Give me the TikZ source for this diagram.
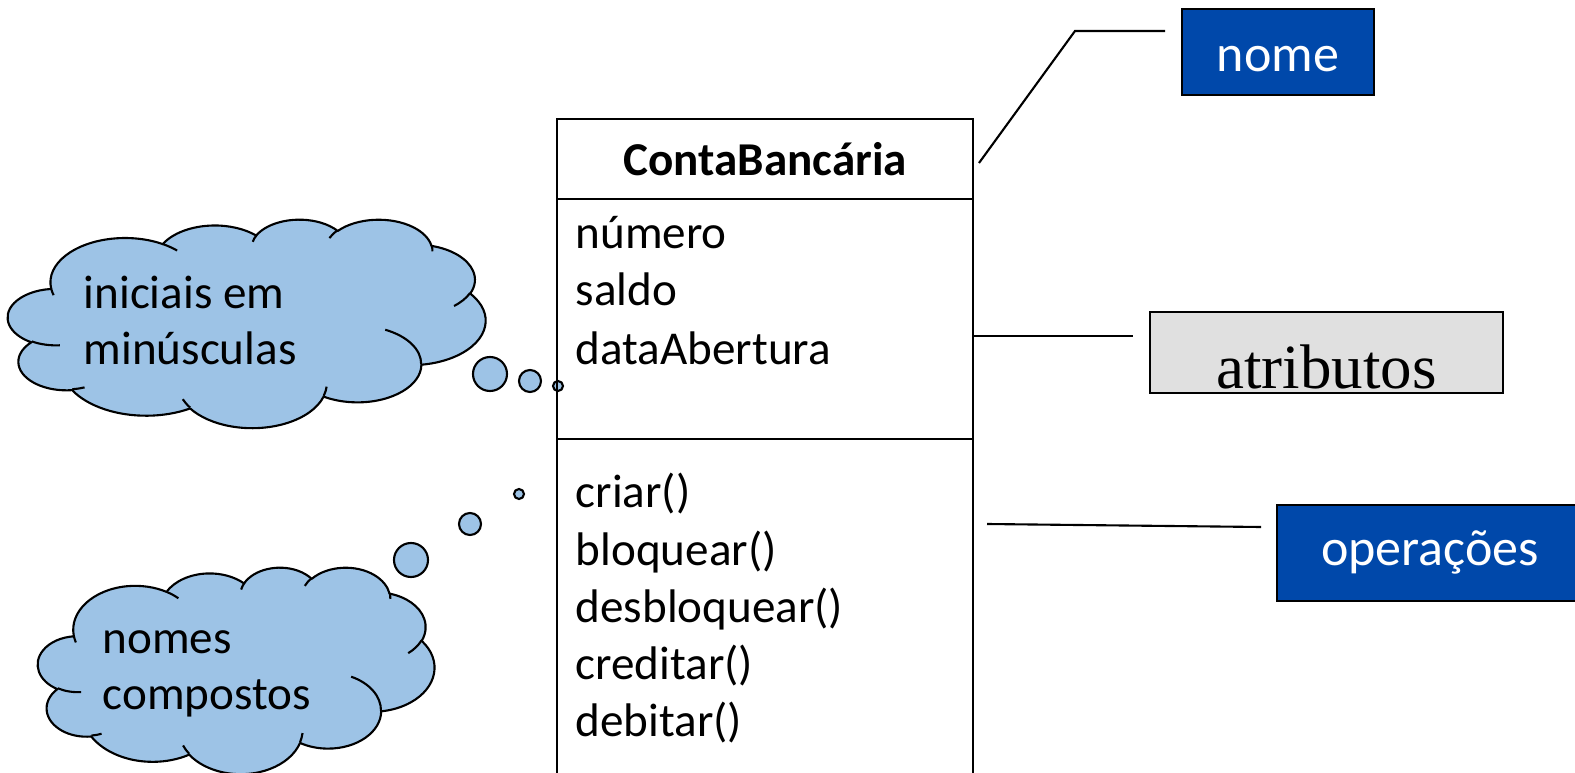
\documentclass[tikz,border=0pt]{standalone}
\usepackage{fontspec}
\setmainfont{Carlito}
\newfontfamily\timesfont{Liberation Serif}
\definecolor{cloudblue}{RGB}{157,195,230}
\definecolor{tagblue}{RGB}{0,72,170}
\definecolor{taggray}{RGB}{224,224,224}

\tikzset{
  uml/.style={draw, line width=0.6pt, minimum width=4.16cm, anchor=north west, inner sep=0pt, outer sep=0pt},
  member/.style={anchor=base west, inner sep=0pt, font=\fontsize{13.4}{16}\selectfont},
  cloudline/.style={line width=0.6pt, line join=round},
  bubble/.style={circle, draw, line width=0.6pt, fill=cloudblue, inner sep=0pt},
  tag/.style={draw, line width=0.6pt, anchor=north west, inner sep=0pt, text depth=0pt},
  leader/.style={line width=0.6pt}
}

% cloud drawn in a 432 x 432 box, y downwards
\newcommand{\thoughtcloud}{%
  \draw[cloudline, fill=cloudblue] (39.00,143.70)
    arc[x radius=67.53, y radius=91.90, start angle=172.25, end angle=300.36]
    arc[x radius=53.33, y radius=72.67, start angle=-152.02, end angle=-45.45]
    arc[x radius=43.65, y radius=59.45, start angle=-153.49, end angle=-37.33]
    arc[x radius=48.57, y radius=65.95, start angle=-139.70, end angle=-10.21]
    arc[x radius=53.33, y radius=72.73, start angle=-74.77, end angle=23.22]
    arc[x radius=67.75, y radius=92.20, start angle=-37.53, end angle=81.87]
    arc[x radius=57.85, y radius=78.67, start angle=0.46, end angle=121.97]
    arc[x radius=67.52, y radius=92.15, start angle=16.85, end angle=146.22]
    arc[x radius=77.20, y radius=105.43, start angle=58.98, end angle=150.19]
    arc[x radius=43.60, y radius=59.18, start angle=83.30, end angle=223.11]
    arc[x radius=43.45, y radius=59.45, start angle=120.35, end angle=264.11]
    -- cycle;
  \draw[cloudline]
    (46.93,261.77) arc[x radius=43.45, y radius=59.45, start angle=85.55, end angle=120.35]
    (69.28,348.99) arc[x radius=43.60, y radius=59.18, start angle=68.23, end angle=83.30]
    (164.78,390.90) arc[x radius=67.52, y radius=92.15, start angle=146.22, end angle=158.47]
    (288.27,347.51) arc[x radius=67.52, y radius=92.15, start angle=4.74, end angle=16.85]
    (341.29,229.54) arc[x radius=57.85, y radius=78.67, start angle=-64.03, end angle=0.46]
    (417.98,153.54) arc[x radius=53.33, y radius=72.73, start angle=23.22, end angle=49.64]
    (383.24,54.26) arc[x radius=48.57, y radius=65.95, start angle=-10.21, end angle=0.82]
    (290.78,39.52) arc[x radius=48.57, y radius=65.95, start angle=-156.29, end angle=-139.70]
    (221.41,47.20) arc[x radius=43.65, y radius=59.45, start angle=-167.73, end angle=-153.49]
    (140.00,51.92) arc[x radius=67.53, y radius=91.90, start angle=-59.64, end angle=-45.74]
    (41.27,157.89) arc[x radius=67.53, y radius=91.90, start angle=163.20, end angle=172.25];
}

\begin{document}
\begin{tikzpicture}[x=0.01cm, y=-0.01cm]
\useasboundingbox (0,0) rectangle (1575,773);
\clip (0,0) rectangle (1575,773);

% thought clouds
\begin{scope}[shift={(8,219)}, x=0.011042cm, y=-0.0048148cm]
  \thoughtcloud
\end{scope}
\node[member] (tipA1) at (83,308) {iniciais em};
\node[member] (tipA2) at (83,365) {minúsculas};
\node[bubble, minimum size=0.34cm] (bubA1) at (490,374) {};
\node[bubble, minimum size=0.22cm] (bubA2) at (530,381) {};
\node[bubble, minimum size=0.10cm] (bubA3) at (558,386) {};

\begin{scope}[shift={(38,567)}, x=0.009167cm, y=-0.0047685cm]
  \thoughtcloud
\end{scope}
\node[member] (tipB1) at (102,653) {nomes};
\node[member] (tipB2) at (102,709) {compostos};
\node[bubble, minimum size=0.34cm] (bubB1) at (411,560) {};
\node[bubble, minimum size=0.22cm] (bubB2) at (470,524) {};
\node[bubble, minimum size=0.10cm] (bubB3) at (519,494) {};

% class
\node[uml, minimum height=0.80cm, font=\fontsize{13.4}{16}\selectfont\bfseries] (cname) at (557,119) {ContaBancária};
\node[uml, minimum height=2.40cm] (cattr) at (cname.south west) {};
\node[uml, minimum height=3.60cm] (cops) at (cattr.south west) {};

\node[member] (attr1) at (575,249) {número};
\node[member] (attr2) at (575,305) {saldo};
\node[member] (attr3) at (575,364) {dataAbertura};

\node[member] (op1) at (575,507) {criar()};
\node[member] (op2) at (575,565) {bloquear()};
\node[member] (op3) at (575,622) {desbloquear()};
\node[member] (op4) at (575,679) {creditar()};
\node[member] (op5) at (575,736) {debitar()};

% tags
\node[tag, fill=tagblue, text=white, minimum width=1.92cm, minimum height=0.86cm,
  text height=0.38cm, font=\fontsize{14.8}{18}\selectfont] (nome) at (1181,8) {nome};
\node[tag, fill=taggray, minimum width=3.53cm, minimum height=0.81cm,
  text height=0.71cm, font=\timesfont\fontsize{17.9}{21}\selectfont] (atrib) at (1149,311) {atributos};
\node[tag, fill=tagblue, text=white, minimum width=3.06cm, minimum height=0.96cm,
  text height=0.24cm, font=\fontsize{14.8}{18}\selectfont] (oper) at (1276,504) {operações};

% leaders
\coordinate (nomeA) at (979,163);
\coordinate (nomeB) at (1165,31);
\draw[leader] (nomeA) -- (1075,31) -- (nomeB);
\coordinate (atribA) at (973,336);
\coordinate (atribB) at (1133,336);
\draw[leader] (atribA) -- (atribB);
\coordinate (operA) at (987,524);
\coordinate (operB) at (1261,527);
\draw[leader] (operA) -- (operB);
\end{tikzpicture}
\end{document}
